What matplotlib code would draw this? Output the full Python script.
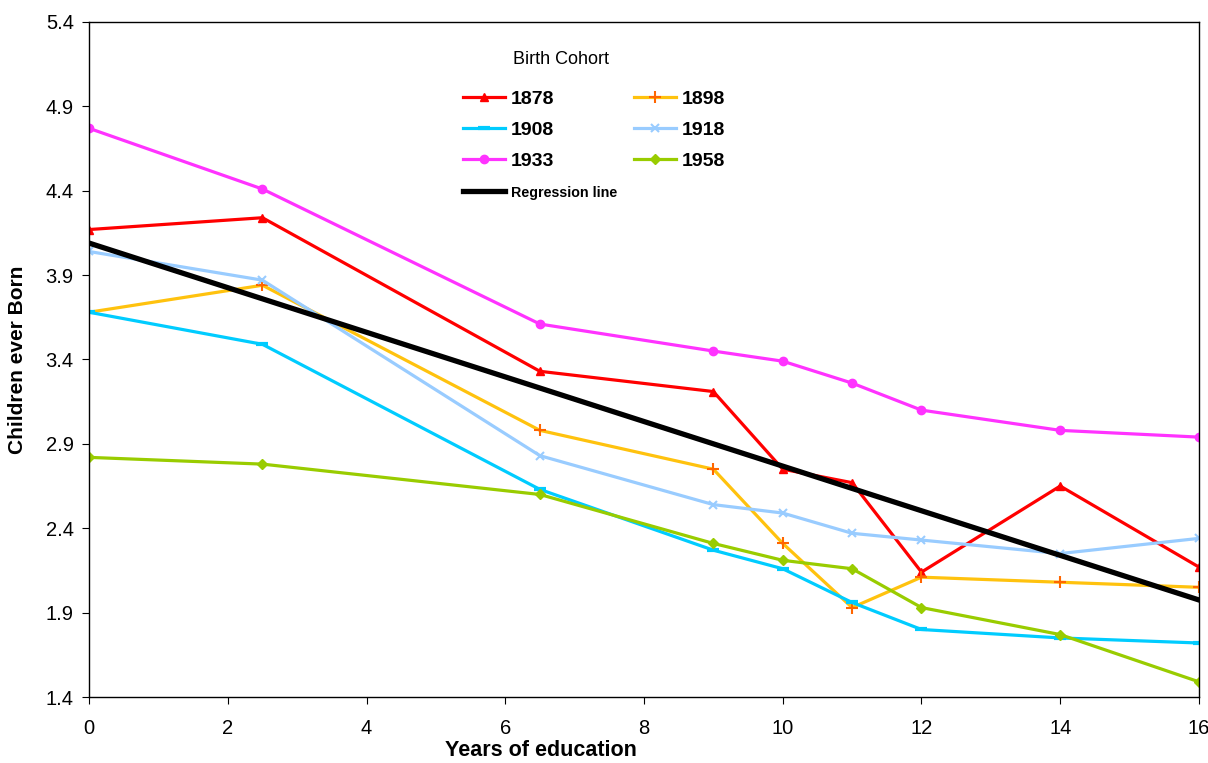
import matplotlib
matplotlib.use("Agg")
import matplotlib.pyplot as plt

plt.rcParams['font.family'] = ['Liberation Sans', 'DejaVu Sans']

# Years of education
years = [0, 2.5, 6.5, 9, 10, 11, 12, 14, 16]

# Children ever born by birth cohort
c1878 = [4.17, 4.24, 3.33, 3.21, 2.75, 2.67, 2.14, 2.65, 2.17]
c1898 = [3.68, 3.84, 2.98, 2.75, 2.31, 1.93, 2.11, 2.08, 2.05]
c1908 = [3.68, 3.49, 2.63, 2.27, 2.16, 1.96, 1.80, 1.75, 1.72]
c1918 = [4.04, 3.87, 2.83, 2.54, 2.49, 2.37, 2.33, 2.25, 2.34]
c1933 = [4.77, 4.41, 3.61, 3.45, 3.39, 3.26, 3.10, 2.98, 2.94]
c1958 = [2.82, 2.78, 2.60, 2.31, 2.21, 2.16, 1.93, 1.77, 1.49]

reg_x = [0, 16]
reg_y = [4.09, 1.975]

y_ticks = [1.4, 1.9, 2.4, 2.9, 3.4, 3.9, 4.4, 4.9, 5.4]
x_ticks = [0, 2, 4, 6, 8, 10, 12, 14, 16]

fig = plt.figure(figsize=(12.08, 7.63), dpi=100)
ax = fig.add_axes([0.0737, 0.0865, 0.9188, 0.8847])

lw = 2.3
h1878, = ax.plot(years, c1878, color='#FF0000', lw=lw, marker='^', ms=6, label='1878')
h1898, = ax.plot(years, c1898, color='#FFC20E', lw=lw, marker='+', ms=9, mew=1.5,
                 mec='#FF6600', label='1898')
h1908, = ax.plot(years, c1908, color='#00CCFF', lw=lw, marker='_', ms=9, mew=3, label='1908')
h1918, = ax.plot(years, c1918, color='#99CCFF', lw=lw, marker='x', ms=6, mew=1.5, label='1918')
h1933, = ax.plot(years, c1933, color='#FF33FF', lw=lw, marker='o', ms=6, label='1933')
h1958, = ax.plot(years, c1958, color='#99CC00', lw=lw, marker='D', ms=5, label='1958')
hreg, = ax.plot(reg_x, reg_y, color='black', lw=3.8, label='Regression line')

ax.set_xlim(0, 16)
ax.set_ylim(1.4, 5.4)
ax.set_xticks(x_ticks)
ax.set_yticks(y_ticks)
ax.set_yticklabels([f'{v:.1f}' for v in y_ticks])
ax.tick_params(labelsize=14.5, length=5, direction='out')
ax.tick_params(axis='x', pad=11)
ax.tick_params(axis='y', pad=6)
for s in ax.spines.values():
    s.set_linewidth(1.0)

ax.set_xlabel('Years of education', fontsize=15.5, fontweight='bold')
ax.xaxis.set_label_coords(0.407, -0.063)
ax.set_ylabel('Children ever Born', fontsize=15, fontweight='bold')
ax.yaxis.set_label_coords(-0.0559, 0.50)

# legend title drawn separately (it sits left of centre in the original)
ax.text(0.382, 0.944, 'Birth Cohort', transform=ax.transAxes, fontsize=13,
        ha='left', va='center')

handles = [h1878, h1908, h1933, hreg, h1898, h1918, h1958]
leg = ax.legend(handles=handles, labels=[h.get_label() for h in handles],
                ncol=2, frameon=False, loc='upper left', bbox_to_anchor=(0.337, 0.899),
                borderaxespad=0, borderpad=0,
                prop={'weight': 'bold', 'size': 14}, handlelength=2.15,
                columnspacing=0.9, labelspacing=0.7, handletextpad=0.3)
for t in leg.get_texts():
    if t.get_text() == 'Regression line':
        t.set_fontsize(10.3)

fig.savefig('out.png', dpi=100)
